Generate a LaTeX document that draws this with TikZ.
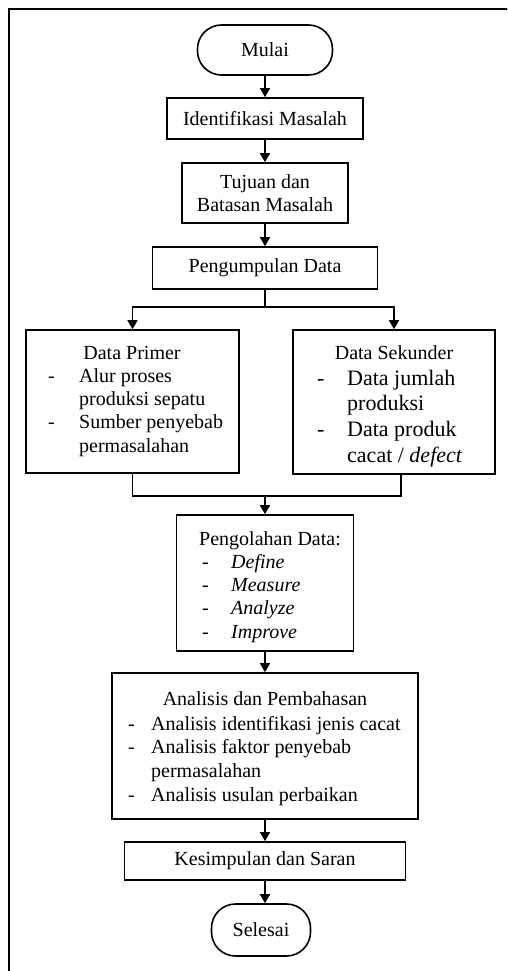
\documentclass[tikz,border=0pt]{standalone}
\usepackage{fontspec}
\setmainfont{Liberation Serif}
\usetikzlibrary{arrows.meta}
\begin{document}
\begin{tikzpicture}[x=1pt,y=-1pt,
  box/.style={draw, line width=1.6pt, inner sep=0pt, align=center, font=\fontsize{20}{23}\selectfont},
  term/.style={box, rounded corners=24pt},
  arr/.style={line width=1.6pt, -{Triangle[width=10pt,length=9pt]}},
  ln/.style={line width=1.6pt},
  txt/.style={inner sep=0pt, anchor=base west, font=\fontsize{20}{23}\selectfont},
  txtb/.style={inner sep=0pt, anchor=base west, font=\fontsize{22}{25}\selectfont}]
\useasboundingbox (0,0) rectangle (507,971);
\clip (0,0) rectangle (507,971);
\draw[line width=1.6pt] (9,9) rectangle (540,1000);

% main column
\node[term, minimum width=135pt, minimum height=50pt] (mulai) at (265,50) {Mulai};
\node[box, minimum width=196pt, minimum height=41pt] (ident) at (265,118.5) {Identifikasi Masalah};
\node[box, minimum width=166pt, minimum height=60pt] (tuj) at (265,193) {Tujuan dan\\Batasan Masalah};
\node[box, minimum width=225pt, minimum height=42pt] (peng) at (265,268) {Pengumpulan Data};

% data boxes
\node[box, minimum width=213pt, minimum height=143pt] (prim) at (132.5,401.5) {};
\node[txt, anchor=base] (primt) at (132,359) {Data Primer};
\node[txt] (pd1) at (48,382) {-};
\node[txt] (pi1) at (79,382) {Alur proses};
\node[txt] (pi2) at (79,405) {produksi sepatu};
\node[txt] (pd2) at (48,428) {-};
\node[txt] (pi3) at (79,428) {Sumber penyebab};
\node[txt] (pi4) at (79,452) {permasalahan};

\node[box, minimum width=202pt, minimum height=144pt] (sek) at (394,402) {};
\node[txt, anchor=base] (sekt) at (394,359) {Data Sekunder};
\node[txtb] (sd1) at (317,385) {-};
\node[txtb] (si1) at (347,385) {Data jumlah};
\node[txtb] (si2) at (347,410) {produksi};
\node[txtb] (sd2) at (317,436) {-};
\node[txtb] (si3) at (347,436) {Data produk};
\node[txtb] (si4) at (347,462) {cacat / \textit{defect}};

% pengolahan
\node[box, minimum width=177pt, minimum height=136pt] (olah) at (265,583) {};
\node[txt] (olt) at (199,545) {Pengolahan Data:};
\node[txt] (od1) at (202,568) {-};
\node[txt] (oi1) at (231,568) {\textit{Define}};
\node[txt] (od2) at (202,591) {-};
\node[txt] (oi2) at (231,591) {\textit{Measure}};
\node[txt] (od3) at (202,614) {-};
\node[txt] (oi3) at (231,614) {\textit{Analyze}};
\node[txt] (od4) at (202,638) {-};
\node[txt] (oi4) at (231,638) {\textit{Improve}};

% analisis
\node[box, minimum width=306pt, minimum height=146pt] (anal) at (265,746) {};
\node[txt, anchor=base] (ant) at (265,705) {Analisis dan Pembahasan};
\node[txt] (ad1) at (128,730) {-};
\node[txt] (ai1) at (151,730) {Analisis identifikasi jenis cacat};
\node[txt] (ad2) at (128,753) {-};
\node[txt] (ai2) at (151,753) {Analisis faktor penyebab};
\node[txt] (ai3) at (151,777) {permasalahan};
\node[txt] (ad3) at (128,801) {-};
\node[txt] (ai4) at (151,801) {Analisis usulan perbaikan};

\node[box, minimum width=281pt, minimum height=38pt] (kes) at (265,861) {Kesimpulan dan Saran};
\node[term, minimum width=99pt, minimum height=52pt] (sel) at (261,930) {Selesai};

% connectors
\draw[arr] (mulai.south) -- (ident.north);
\draw[arr] (ident.south) -- (tuj.north);
\draw[arr] (tuj.south) -- (peng.north);
\coordinate (sp) at (265,307);
\draw[ln] (peng.south) -- (sp);
\draw[arr] (sp) -| (prim.north);
\draw[arr] (sp) -| (sek.north);
\coordinate (jn) at (265,496);
\coordinate (jr) at (401,496);
\draw[ln] (prim.south) |- (jn) -- (jr) -- (jr |- sek.south);
\draw[arr] (jn) -- (olah.north);
\draw[arr] (olah.south) -- (anal.north);
\draw[arr] (anal.south) -- (kes.north);
\draw[arr] (kes.south) -- (kes.south |- sel.north);
\end{tikzpicture}
\end{document}
